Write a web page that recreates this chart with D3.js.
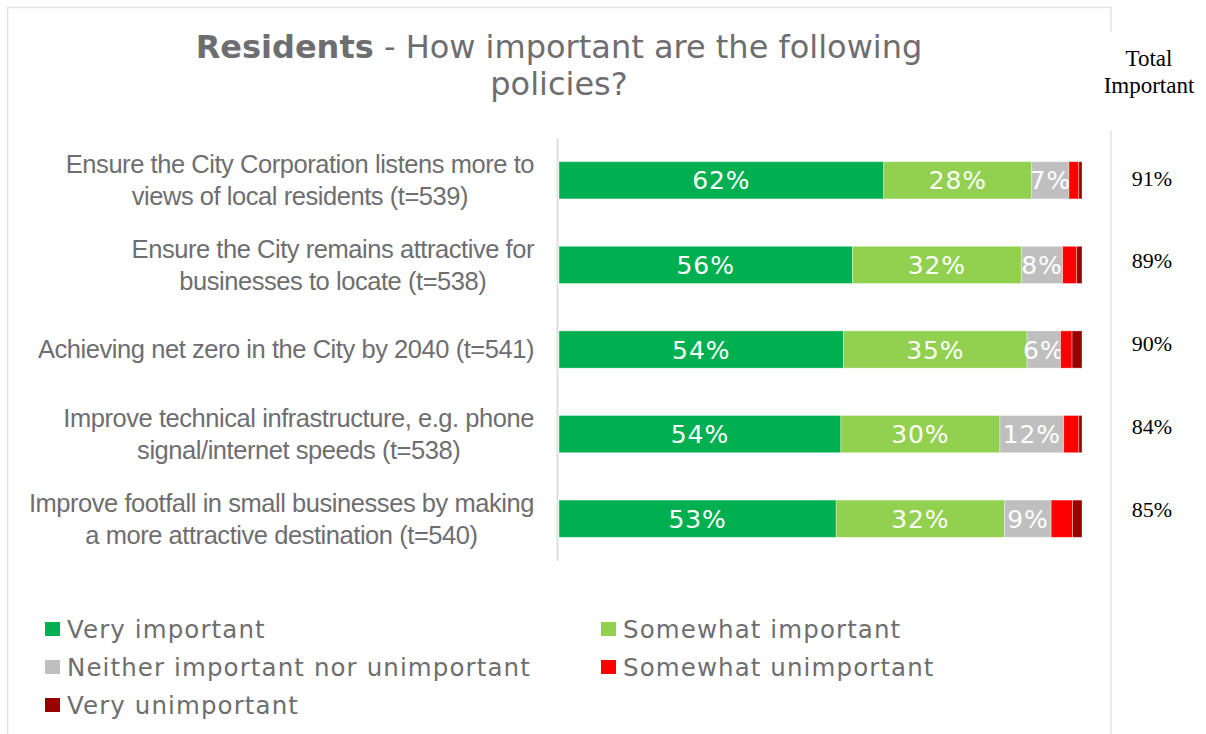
<!DOCTYPE html>
<html>
<head>
<meta charset="utf-8">
<script src="https://cdn.jsdelivr.net/npm/d3@7"></script>
<style>
  body { margin: 0; background: #fff; }
  svg { display: block; }
</style>
</head>
<body>
<svg id="chart"></svg>
<script>
// Categories (one entry per bar, split in display lines)
const categories = [
  ["Ensure the City Corporation listens more to", "views of local residents (t=539)"],
  ["Ensure the City remains attractive for", "businesses to locate (t=538)"],
  ["Achieving net zero in the City by 2040 (t=541)"],
  ["Improve technical infrastructure, e.g. phone", "signal/internet speeds (t=538)"],
  ["Improve footfall in small businesses by making", "a more attractive destination (t=540)"]
];

// Series values (%)
const veryImportant = [62.1, 56.1, 54.4, 53.9, 53.0];
const somewhatImportant = [28.3, 32.3, 35.1, 30.4, 32.2];
const neitherImportant = [7.1, 7.9, 6.4, 12.2, 8.9];
const somewhatUnimportant = [1.9, 2.7, 2.2, 2.9, 4.1];
const veryUnimportant = [0.6, 1.0, 1.9, 0.6, 1.8];

const totalImportant = [91, 89, 90, 84, 85];

const seriesNames = [
  "Very important",
  "Somewhat important",
  "Neither important nor unimportant",
  "Somewhat unimportant",
  "Very unimportant"
];
const seriesColors = ["#00b050", "#92d050", "#bfbfbf", "#ff0000", "#990000"];

const W = 1206, H = 734;
const svg = d3.select("#chart").attr("width", W).attr("height", H);

// chart area frame
svg.append("rect")
  .attr("x", 7.5).attr("y", 7.5)
  .attr("width", 1103.5).attr("height", 760)
  .attr("fill", "#fff")
  .attr("stroke", "#e3e3e3")
  .attr("stroke-width", 1.5);

// text box of the "Total Important" header hides part of the frame
svg.append("rect")
  .attr("x", 1098).attr("y", 32)
  .attr("width", 108).attr("height", 98)
  .attr("fill", "#fff");

// Title
const title = svg.append("text")
  .attr("text-anchor", "middle")
  .style("font-family", "'DejaVu Sans', Verdana, sans-serif")
  .style("font-size", "32px")
  .style("fill", "#6e6e70");
const t1 = title.append("tspan").attr("x", 559).attr("y", 58);
t1.append("tspan").style("font-weight", "bold").text("Residents");
t1.append("tspan").text(" - How important are the following");
title.append("tspan").attr("x", 559).attr("y", 95).text("policies?");

// Build rows
const keys = seriesNames;
const rows = categories.map((c, i) => ({
  idx: i,
  [keys[0]]: veryImportant[i],
  [keys[1]]: somewhatImportant[i],
  [keys[2]]: neitherImportant[i],
  [keys[3]]: somewhatUnimportant[i],
  [keys[4]]: veryUnimportant[i]
}));

const stacked = d3.stack().keys(keys)(rows);

const x = d3.scaleLinear().domain([0, 100]).range([559, 1082]);
const y = d3.scaleBand()
  .domain(d3.range(categories.length))
  .range([138, 561])
  .paddingInner(0.56)
  .paddingOuter(0.28);

// vertical category axis line
svg.append("line")
  .attr("x1", 557.5).attr("x2", 557.5)
  .attr("y1", 138).attr("y2", 561)
  .attr("stroke", "#e0e0e0")
  .attr("stroke-width", 2);

// Bars
const layers = svg.append("g")
  .selectAll("g")
  .data(stacked)
  .enter()
  .append("g")
  .attr("fill", (d, i) => seriesColors[i]);

layers.selectAll("rect")
  .data((d) => d)
  .enter()
  .append("rect")
  .attr("x", (d) => x(d[0]))
  .attr("y", (d) => y(d.data.idx))
  .attr("width", (d) => x(d[1]) - x(d[0]))
  .attr("height", y.bandwidth())
  .attr("stroke", "#ffffff")
  .attr("stroke-opacity", 0.45)
  .attr("stroke-width", 0.8);

// Value labels inside bars
layers.selectAll("text")
  .data((d) => d.filter((p) => p[1] - p[0] >= 5))
  .enter()
  .append("text")
  .attr("x", (d) => (x(d[0]) + x(d[1])) / 2)
  .attr("y", (d) => y(d.data.idx) + y.bandwidth() / 2 + 9)
  .attr("text-anchor", "middle")
  .style("font-family", "'DejaVu Sans', Verdana, sans-serif")
  .style("font-size", "25px")
  .style("letter-spacing", "0.9px")
  .style("fill", "#ffffff")
  .text((d) => Math.round(d[1] - d[0]) + "%");

// Category labels (centered paragraph, right edge at 534)
const catG = svg.append("g");
categories.forEach((lines, i) => {
  const cy = y(i) + y.bandwidth() / 2;
  const txt = catG.append("text")
    .attr("text-anchor", "middle")
    .style("font-family", "'Liberation Sans', Arial, sans-serif")
    .style("font-size", "25.5px")
    .style("letter-spacing", "-0.45px")
    .style("fill", "#6e6e70");
  const spans = lines.map((line, j) =>
    txt.append("tspan")
      .attr("y", cy + 8.8 + (j - (lines.length - 1) / 2) * 32)
      .text(line)
  );
  const maxW = d3.max(spans, (s) => s.node().getComputedTextLength());
  spans.forEach((s) => s.attr("x", 534 - maxW / 2));
});

// Total Important column
const totalX = 1149;
const header = svg.append("text")
  .attr("text-anchor", "middle")
  .style("font-family", "'Liberation Serif', 'Times New Roman', serif")
  .style("font-size", "23px")
  .style("fill", "#000");
header.append("tspan").attr("x", totalX).attr("y", 65.5).text("Total");
header.append("tspan").attr("x", totalX).attr("y", 93).text("Important");

const yTot = d3.scalePoint()
  .domain(d3.range(totalImportant.length))
  .range([185.7, 516.7]);

svg.append("g")
  .selectAll("text")
  .data(totalImportant)
  .enter()
  .append("text")
  .attr("x", totalX + 3)
  .attr("y", (d, i) => yTot(i))
  .attr("text-anchor", "middle")
  .style("font-family", "'Liberation Serif', 'Times New Roman', serif")
  .style("font-size", "22px")
  .style("fill", "#000")
  .text((d) => d + "%");

// Legend
const legendCols = [45, 601];
const legendRows = [629, 667, 705];
const legend = svg.append("g")
  .selectAll("g")
  .data(seriesNames)
  .enter()
  .append("g")
  .attr("transform", (d, i) =>
    `translate(${legendCols[i % 2]}, ${legendRows[Math.floor(i / 2)]})`);

legend.append("rect")
  .attr("x", 0).attr("y", -7)
  .attr("width", 15).attr("height", 14)
  .attr("fill", (d, i) => seriesColors[i]);

legend.append("text")
  .attr("x", 22)
  .attr("y", 8.8)
  .style("font-family", "'DejaVu Sans', Verdana, sans-serif")
  .style("font-size", "24.5px")
  .style("letter-spacing", "1.1px")
  .style("fill", "#6e6e70")
  .text((d) => d);
</script>
</body>
</html>
